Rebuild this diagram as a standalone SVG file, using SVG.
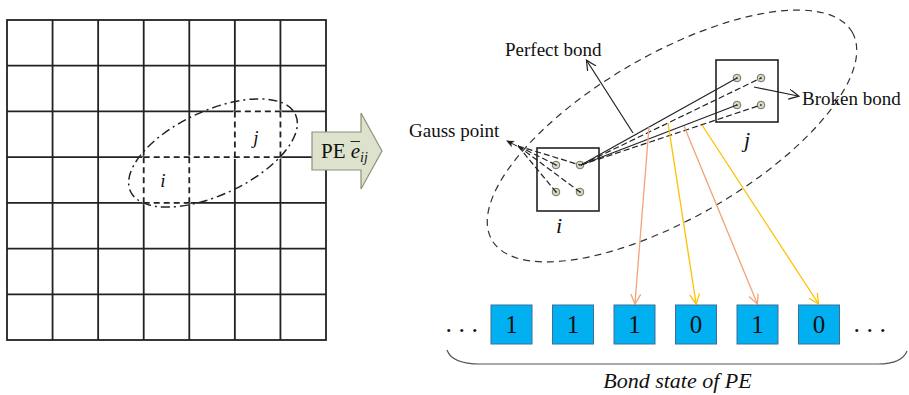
<svg xmlns="http://www.w3.org/2000/svg" width="909" height="395" viewBox="0 0 909 395" font-family="'Liberation Serif', 'Times New Roman', 'DejaVu Serif', serif">
<style>
  text { font-family: 'Liberation Serif', 'Times New Roman', 'DejaVu Serif', serif; fill: #111; }
  .grid { stroke: #222; stroke-width: 1.8; fill: none; }
  .gdash { stroke: #222; stroke-width: 1.8; stroke-dasharray: 6 4; fill: none; }
  .erase { stroke: #fff; stroke-width: 3.5; fill: none; }
  .elem { stroke: #222; stroke-width: 1.6; fill: #fff; }
  .gp { fill: #d6d9bf; stroke: #6f7264; stroke-width: 1; }
  .gpc { fill: #555; }
  .bond { stroke: #222; stroke-width: 1.2; fill: none; }
  .bdash { stroke: #222; stroke-width: 1.2; fill: none; stroke-dasharray: 6 3; }
  .orange { stroke: #f4a277; stroke-width: 1.3; fill: none; }
  .yellow { stroke: #ffc000; stroke-width: 1.3; fill: none; }
  .state { fill: #00b0f0; stroke: #3f6f96; stroke-width: 1; }
  .digit { font-size: 25px; text-anchor: middle; }
  .lbl { font-size: 19px; }
</style>
<defs>
  <marker id="openArrow" markerWidth="12" markerHeight="12" refX="9" refY="5" orient="auto" markerUnits="userSpaceOnUse">
    <path d="M0,0 L10,5 L0,10" fill="none" stroke="#222" stroke-width="1.2"/>
  </marker>
  <marker id="arrOrange" markerWidth="12" markerHeight="12" refX="9" refY="5" orient="auto" markerUnits="userSpaceOnUse">
    <path d="M0,0 L10,5 L0,10" fill="none" stroke="#f4a277" stroke-width="1.3"/>
  </marker>
  <marker id="arrYellow" markerWidth="12" markerHeight="12" refX="9" refY="5" orient="auto" markerUnits="userSpaceOnUse">
    <path d="M0,0 L10,5 L0,10" fill="none" stroke="#ffc000" stroke-width="1.3"/>
  </marker>
  <marker id="fillArrow" markerWidth="10" markerHeight="10" refX="7" refY="3.5" orient="auto" markerUnits="userSpaceOnUse">
    <path d="M0,0 L8,3.5 L0,7 L2,3.5 Z" fill="#222"/>
  </marker>
</defs>

<!-- Left: mesh grid -->
<g id="mesh">
  <rect class="grid" x="7" y="20" width="319" height="320"/>
  <path class="grid" d="M52.57,20V340 M98.14,20V340 M143.71,20V340 M189.29,20V340 M234.86,20V340 M280.43,20V340
                        M7,65.71H326 M7,111.43H326 M7,157.14H326 M7,202.86H326 M7,248.57H326 M7,294.29H326"/>
  <!-- dashed element borders -->
  <path class="erase" d="M143.71,157.14H280.43 M143.71,157.14V202.86 M189.29,157.14V202.86 M143.71,202.86H189.29
                         M234.86,111.43H280.43 M234.86,111.43V157.14 M280.43,111.43V157.14"/>
  <path class="gdash" d="M143.71,157.14H280.43 M143.71,157.14V202.86 M189.29,157.14V202.86 M143.71,202.86H189.29
                         M234.86,111.43H280.43 M234.86,111.43V157.14 M280.43,111.43V157.14"/>
  <ellipse cx="213" cy="153" rx="91" ry="42" transform="rotate(-25 213 153)" fill="none" stroke="#222" stroke-width="1.5" stroke-dasharray="9 4 2 4"/>
  <text x="163" y="187" font-size="19" font-style="italic" text-anchor="middle">i</text>
  <text x="256" y="144" font-size="19" font-style="italic" text-anchor="middle">j</text>
</g>

<!-- Block arrow PE -->
<g id="pe-arrow">
  <path d="M312,132 L361,132 L361,113 L382,151 L361,189 L361,170 L312,170 Z" fill="#dde2cc" stroke="#8c927a" stroke-width="1.2"/>
  <text x="321" y="158" font-size="21">PE <tspan font-style="italic">e</tspan><tspan font-style="italic" font-size="14" dy="4">ij</tspan></text>
  <line x1="350.5" y1="141.5" x2="360" y2="141.5" stroke="#111" stroke-width="0.9"/>
</g>

<!-- Right: PE detail -->
<g id="pe-region">
  <ellipse cx="672" cy="136" rx="208" ry="82" transform="rotate(-30 672 136)" fill="none" stroke="#333" stroke-width="1.2" stroke-dasharray="7 5"/>
</g>

<g id="element-i">
  <rect class="elem" x="537" y="148" width="62" height="63"/>
  <circle class="gp" cx="556" cy="165" r="3.8"/><circle class="gpc" cx="556" cy="165" r="1"/>
  <circle class="gp" cx="580" cy="165" r="3.8"/><circle class="gpc" cx="580" cy="165" r="1"/>
  <circle class="gp" cx="556" cy="192" r="3.8"/><circle class="gpc" cx="556" cy="192" r="1"/>
  <circle class="gp" cx="580" cy="192" r="3.8"/><circle class="gpc" cx="580" cy="192" r="1"/>
  <text x="559" y="233" font-size="22" font-style="italic" text-anchor="middle">i</text>
</g>

<g id="element-j">
  <rect class="elem" x="716" y="60" width="62" height="62"/>
  <circle class="gp" cx="737" cy="78" r="3.8"/><circle class="gpc" cx="737" cy="78" r="1"/>
  <circle class="gp" cx="761" cy="78" r="3.8"/><circle class="gpc" cx="761" cy="78" r="1"/>
  <circle class="gp" cx="737" cy="105" r="3.8"/><circle class="gpc" cx="737" cy="105" r="1"/>
  <circle class="gp" cx="761" cy="105" r="3.8"/><circle class="gpc" cx="761" cy="105" r="1"/>
  <text x="747" y="147" font-size="22" font-style="italic" text-anchor="middle">j</text>
</g>

<g id="labels">
  <text class="lbl" x="409" y="137">Gauss point</text>
  <text class="lbl" x="505" y="56">Perfect bond</text>
  <text class="lbl" x="802" y="105">Broken bond</text>
</g>

<g id="connectors">
  <!-- Gauss point pointer -->
  <path class="bdash" d="M518,146 L556,165 M518,146 L580,165 M518,146 L556,192 M518,146 L580,192"/>
  <line x1="517" y1="146" x2="507" y2="141" stroke="#222" stroke-width="1" marker-end="url(#fillArrow)"/>
  <!-- bonds between Gauss points -->
  <line class="bond" x1="581" y1="165" x2="737" y2="78"/>
  <line class="bdash" x1="581" y1="165" x2="761" y2="78"/>
  <line class="bond" x1="581" y1="165" x2="737" y2="105"/>
  <line class="bdash" x1="581" y1="165" x2="761" y2="105"/>
  <!-- label arrows -->
  <line class="bond" x1="633" y1="133" x2="587" y2="61" marker-end="url(#openArrow)"/>
  <line class="bond" x1="754" y1="87" x2="798" y2="96" marker-end="url(#openArrow)"/>
  <!-- bond state mapping -->
  <line class="orange" x1="649" y1="127" x2="635" y2="303" marker-end="url(#arrOrange)"/>
  <line class="yellow" x1="668" y1="123" x2="696" y2="303" marker-end="url(#arrYellow)"/>
  <line class="orange" x1="684" y1="126" x2="757" y2="303" marker-end="url(#arrOrange)"/>
  <line class="yellow" x1="702" y1="125" x2="818" y2="303" marker-end="url(#arrYellow)"/>
</g>

<g id="bond-states">
  <text x="445.5" y="332" font-size="26">. . .</text>
  <g id="s1"><rect class="state" x="491" y="305" width="41" height="39"/><text class="digit" x="511.5" y="333">1</text></g>
  <g id="s2"><rect class="state" x="552.5" y="305" width="41" height="39"/><text class="digit" x="573" y="333">1</text></g>
  <g id="s3"><rect class="state" x="614" y="305" width="41" height="39"/><text class="digit" x="634.5" y="333">1</text></g>
  <g id="s4"><rect class="state" x="675.5" y="305" width="41" height="39"/><text class="digit" x="696" y="333">0</text></g>
  <g id="s5"><rect class="state" x="737" y="305" width="41" height="39"/><text class="digit" x="757.5" y="333">1</text></g>
  <g id="s6"><rect class="state" x="798.5" y="305" width="41" height="39"/><text class="digit" x="819" y="333">0</text></g>
  <text x="853.5" y="332" font-size="26">. . .</text>
  <path d="M447,350 Q452,364 480,364 L878,364 Q902,364 907,351" fill="none" stroke="#555" stroke-width="1.2"/>
  <text x="677.5" y="388" font-size="22" font-style="italic" text-anchor="middle">Bond state of PE</text>
</g>
</svg>
